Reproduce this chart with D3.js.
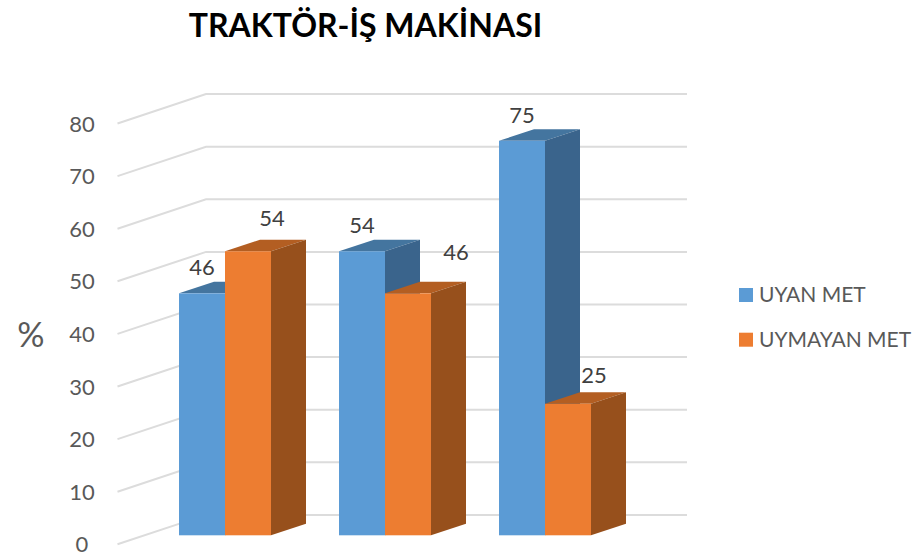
<!DOCTYPE html>
<html>
<head>
<meta charset="utf-8">
<script src="https://cdn.jsdelivr.net/npm/d3@7"></script>
<style>
  html, body { margin: 0; padding: 0; background: #fff; }
  text { font-family: Lato, "Open Sans", sans-serif; }
</style>
</head>
<body>
<div class="chart"></div>
<script>
// Chart data
var groups = ["Grup 1", "Grup 2", "Grup 3"];
var seriesNames = ["UYAN MET", "UYMAYAN MET"];
var uyanValues = [46, 54, 75];
var uymayanValues = [54, 46, 25];
var axisTicks = [0, 10, 20, 30, 40, 50, 60, 70, 80];

var svgWidth = 912;
var svgHeight = 557;

var svg = d3
  .select(".chart")
  .append("svg")
  .attr("width", svgWidth)
  .attr("height", svgHeight)
  .style("display", "block");

// y for the plane the bars stand on
var yScale = d3.scaleLinear().domain([0, 80]).range([535.3, 114.5]);

var xGroup = d3
  .scaleBand()
  .domain(groups)
  .range([145, 625])
  .paddingInner(0.425)
  .paddingOuter(0.2125);

var xSeries = d3
  .scaleBand()
  .domain(seriesNames)
  .range([0, xGroup.bandwidth()]);

// 3d offsets
var barDepthX = 35;
var barDepthY = 11.6;
var wallBack = { x: 206, yShift: -20.4 };
var wallFront = { x: 117.5, yShift: 9 };
var wallRight = 687;

var colors = {
  "UYAN MET": { front: "#5b9bd5", top: "#44759f", side: "#3a648c" },
  "UYMAYAN MET": { front: "#ed7d31", top: "#b35e22", side: "#97501c" },
};

// gridlines: floor/side wall then back wall
var grid = svg.append("g").attr("fill", "none").attr("stroke", "#dcdcdc").attr("stroke-width", 2);

grid
  .selectAll("path")
  .data(axisTicks)
  .enter()
  .append("path")
  .attr("d", function (d) {
    var line = d3.path();
    line.moveTo(wallFront.x, yScale(d) + wallFront.yShift);
    line.lineTo(wallBack.x, yScale(d) + wallBack.yShift);
    line.lineTo(wallRight, yScale(d) + wallBack.yShift);
    return line.toString();
  });

// axis labels
svg
  .append("g")
  .selectAll("text")
  .data(axisTicks)
  .enter()
  .append("text")
  .attr("x", 82)
  .attr("y", (d) => yScale(d) + wallFront.yShift + 8)
  .attr("text-anchor", "middle")
  .attr("font-size", "22px")
  .attr("fill", "#595959")
  .text((d) => d);

svg
  .append("text")
  .attr("x", 31)
  .attr("y", 347)
  .attr("text-anchor", "middle")
  .attr("font-size", "34px")
  .attr("fill", "#595959")
  .text("%");

// one row per bar
var barRows = [];
groups.forEach(function (g, i) {
  barRows.push({ group: g, series: seriesNames[0], value: uyanValues[i] });
});
groups.forEach(function (g, i) {
  barRows.push({ group: g, series: seriesNames[1], value: uymayanValues[i] });
});

var bars = svg
  .append("g")
  .selectAll("g")
  .data(barRows)
  .enter()
  .append("g");

function barLeft(d) {
  return xGroup(d.group) + xSeries(d.series);
}

bars
  .append("polygon")
  .attr("fill", (d) => colors[d.series].top)
  .attr("points", function (d) {
    var x0 = barLeft(d);
    var x1 = x0 + xSeries.bandwidth();
    var y = yScale(d.value);
    return [
      [x0, y],
      [x1, y],
      [x1 + barDepthX, y - barDepthY],
      [x0 + barDepthX, y - barDepthY],
    ].join(" ");
  });

bars
  .append("polygon")
  .attr("fill", (d) => colors[d.series].side)
  .attr("points", function (d) {
    var x1 = barLeft(d) + xSeries.bandwidth();
    var y = yScale(d.value);
    return [
      [x1, y],
      [x1 + barDepthX, y - barDepthY],
      [x1 + barDepthX, yScale(0) - barDepthY],
      [x1, yScale(0)],
    ].join(" ");
  });

bars
  .append("rect")
  .attr("x", barLeft)
  .attr("y", (d) => yScale(d.value))
  .attr("width", xSeries.bandwidth())
  .attr("height", (d) => yScale(0) - yScale(d.value))
  .attr("fill", (d) => colors[d.series].front);

// value labels were moved by hand in the original, so nudge them per bar
var labelNudge = [
  [0, -18],
  [0, -18],
  [0, -18],
  [24, -25],
  [48, -33],
  [26, -21],
];

svg
  .append("g")
  .selectAll("text")
  .data(barRows)
  .enter()
  .append("text")
  .attr("x", (d, i) => barLeft(d) + xSeries.bandwidth() / 2 + labelNudge[i][0])
  .attr("y", (d, i) => yScale(d.value) + labelNudge[i][1])
  .attr("text-anchor", "middle")
  .attr("font-size", "22px")
  .attr("fill", "#404040")
  .text((d) => d.value);

// legend
var legend = svg
  .append("g")
  .selectAll("g")
  .data(seriesNames)
  .enter()
  .append("g")
  .attr("transform", (d, i) => `translate(739, ${288 + i * 44.7})`);

legend
  .append("rect")
  .attr("width", 14)
  .attr("height", 14)
  .attr("fill", (d) => colors[d].front);

legend
  .append("text")
  .attr("x", 20)
  .attr("y", 14)
  .attr("font-size", "21px")
  .attr("fill", "#595959")
  .text((d) => d);

svg
  .append("text")
  .attr("x", 365.5)
  .attr("y", 37)
  .attr("text-anchor", "middle")
  .attr("font-size", "32px")
  .attr("font-weight", "bold")
  .attr("fill", "#000")
  .text("TRAKTÖR-İŞ MAKİNASI");
</script>
</body>
</html>
